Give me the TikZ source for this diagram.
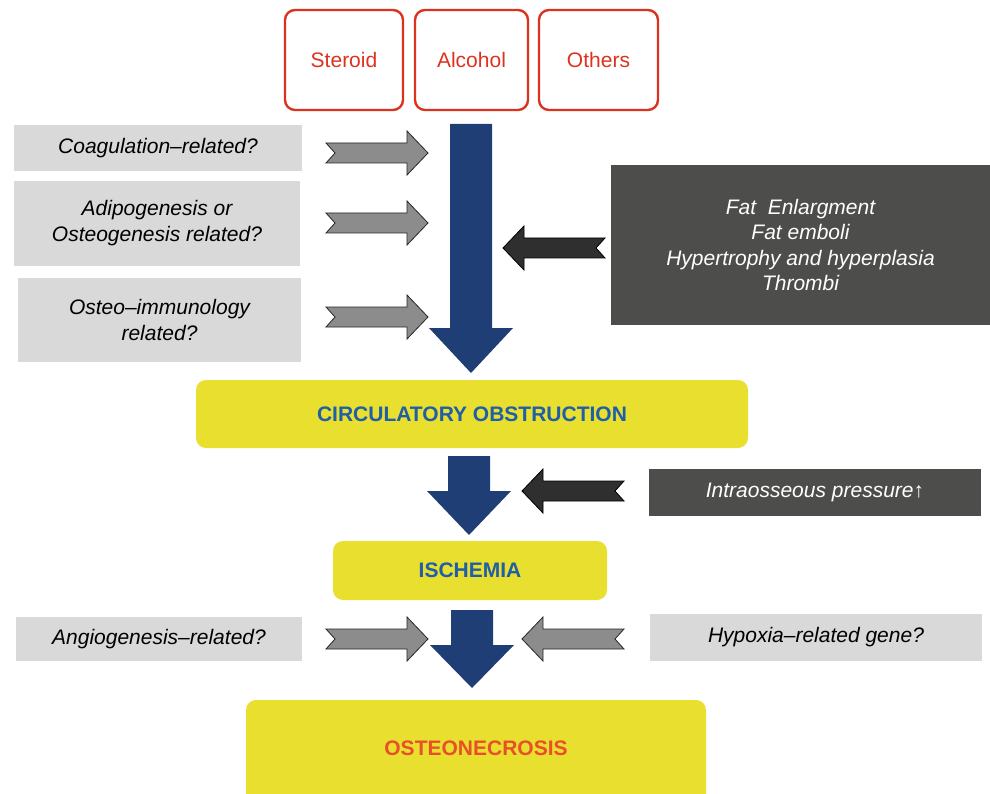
\documentclass[tikz,border=0pt]{standalone}
\usepackage{fontspec}
\setmainfont{Liberation Sans}
\definecolor{causered}{HTML}{DC3220}
\definecolor{stageyellow}{HTML}{E9DF2E}
\definecolor{flowblue}{HTML}{1F3E75}
\definecolor{stageblue}{HTML}{1F5EA8}
\definecolor{stageorange}{HTML}{E8502A}
\definecolor{querygray}{HTML}{D9D9D9}
\definecolor{factgray}{HTML}{4D4D4B}
\definecolor{pushgray}{HTML}{8C8C8C}
\definecolor{pushdark}{HTML}{2F2F2F}

\tikzset{
  labelfont/.style={font=\fontsize{21}{26}\selectfont},
  causebox/.style={labelfont,draw=causered,line width=2.4pt,rounded corners=10pt,
    text=causered,minimum height=100pt},
  querybox/.style={labelfont,fill=querygray,align=center,font=\fontsize{21}{26}\selectfont\itshape},
  factbox/.style={labelfont,fill=factgray,text=white,align=center,font=\fontsize{21}{25.5}\selectfont\itshape},
  stagebox/.style={labelfont,fill=stageyellow,rounded corners=10pt,font=\fontsize{21}{26}\selectfont\bfseries},
  notched/.pic={
    \draw[pic actions] (0,-10) -- (81,-10) -- (81,-22) -- (102,0) -- (81,22) -- (81,10)
      -- (0,10) -- (9,0) -- cycle;
  }
}

\begin{document}
\begin{tikzpicture}[x=1pt,y=-1pt]
  \useasboundingbox (0,0) rectangle (990,794);

  \node[causebox,minimum width=118pt] (steroid) at (344,60) {Steroid};
  \node[causebox,minimum width=113pt] (alcohol) at (471.5,60) {Alcohol};
  \node[causebox,minimum width=119pt] (others) at (598.5,60) {Others};

  \node[querybox,minimum width=288pt,minimum height=46pt] (coag) at (158,148) {Coagulation–related?};
  \node[querybox,minimum width=286pt,minimum height=85pt] (adipo) at (157,223.5)
    {Adipogenesis or\\Osteogenesis related?};
  \node[querybox,minimum width=283pt,minimum height=84pt] (immuno) at (159.5,320)
    {Osteo–immunology\\related?};
  \node[querybox,minimum width=286pt,minimum height=44pt] (angio) at (159,639) {Angiogenesis–related?};
  \node[querybox,minimum width=332pt,minimum height=47pt] (hypoxia) at (816,637.5) {Hypoxia–related gene?};

  \node[factbox,minimum width=379pt,minimum height=160pt] (fat) at (800.5,245)
    {Fat\ \ Enlargment\\Fat emboli\\Hypertrophy and hyperplasia\\Thrombi};
  \node[factbox,minimum width=332pt,minimum height=47pt] (pressure) at (815,492.5)
    {Intraosseous pressure↑};

  \node[stagebox,text=stageblue,minimum width=552pt,minimum height=68pt] (obstruction) at (472,414)
    {CIRCULATORY OBSTRUCTION};
  \node[stagebox,text=stageblue,minimum width=274pt,minimum height=59pt] (ischemia) at (470,570.5)
    {ISCHEMIA};
  \node[stagebox,text=stageorange,minimum width=460pt,minimum height=110pt] (necrosis) at (476,755)
    {};
  \node[labelfont,text=stageorange,font=\fontsize{21}{26}\selectfont\bfseries] at (476,748) {OSTEONECROSIS};

  \foreach \cx/\top/\hs/\tip in {471/124/328/373,469/456/491/535,472/610/645/688}{
    \fill[flowblue] (\cx-21,\top) -- (\cx+21,\top) -- (\cx+21,\hs) -- (\cx+42,\hs)
      -- (\cx,\tip) -- (\cx-42,\hs) -- (\cx-21,\hs) -- cycle;
  }

  \foreach \y in {153,223,317,639}{
    \pic[fill=pushgray,draw=black!85,line width=0.8pt] at (326,\y) {notched};
  }
  \pic[fill=pushgray,draw=black!85,line width=0.8pt,rotate=180] at (624,639) {notched};
  \pic[fill=pushdark,draw=black,line width=0.8pt,rotate=180] at (605,248) {notched};
  \pic[fill=pushdark,draw=black,line width=0.8pt,rotate=180] at (624,491) {notched};
\end{tikzpicture}
\end{document}
